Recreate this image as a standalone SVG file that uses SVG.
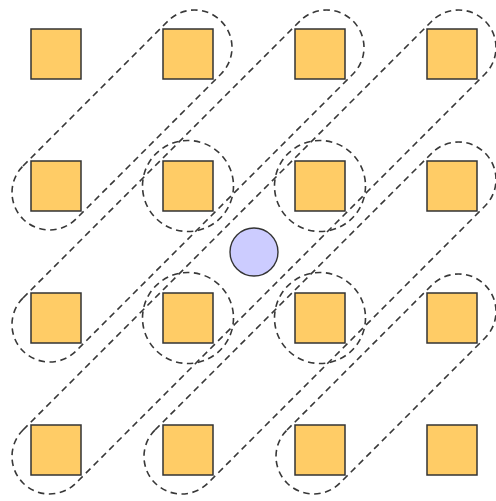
<svg xmlns="http://www.w3.org/2000/svg" width="496" height="501" viewBox="0 0 496 501">
<style>
.grp{fill:none;stroke:#383838;stroke-width:1.6;stroke-dasharray:6.5 4.5}
.sq{fill:#ffcc66;stroke:#333;stroke-width:1.5}
.ctr{fill:#ccccff;stroke:#333;stroke-width:1.4}
</style>
<rect width="496" height="501" fill="#fff"/>
<g id="connectors">
<rect class="grp" x="-140.03" y="-37.5" width="280.06" height="75" rx="37.5" transform="translate(122 120) rotate(-45)"/>
<rect class="grp" x="-233.37" y="-37.5" width="466.74" height="75" rx="37.5" transform="translate(188 186) rotate(-45)"/>
<rect class="grp" x="-326.7" y="-37.5" width="653.4" height="75" rx="37.5" transform="translate(254 252) rotate(-45)"/>
<rect class="grp" x="-233.37" y="-37.5" width="466.74" height="75" rx="37.5" transform="translate(320 318) rotate(-45)"/>
<rect class="grp" x="-140.03" y="-37.5" width="280.06" height="75" rx="37.5" transform="translate(386 384) rotate(-45)"/>
<circle class="grp" cx="188" cy="186" r="45.5"/>
<circle class="grp" cx="320" cy="186" r="45.5"/>
<circle class="grp" cx="188" cy="318" r="45.5"/>
<circle class="grp" cx="320" cy="318" r="45.5"/>
</g>
<g id="n00"><rect class="sq" x="31" y="29" width="50" height="50"/></g>
<g id="n01"><rect class="sq" x="163" y="29" width="50" height="50"/></g>
<g id="n02"><rect class="sq" x="295" y="29" width="50" height="50"/></g>
<g id="n03"><rect class="sq" x="427" y="29" width="50" height="50"/></g>
<g id="n10"><rect class="sq" x="31" y="161" width="50" height="50"/></g>
<g id="n11"><rect class="sq" x="163" y="161" width="50" height="50"/></g>
<g id="n12"><rect class="sq" x="295" y="161" width="50" height="50"/></g>
<g id="n13"><rect class="sq" x="427" y="161" width="50" height="50"/></g>
<g id="n20"><rect class="sq" x="31" y="293" width="50" height="50"/></g>
<g id="n21"><rect class="sq" x="163" y="293" width="50" height="50"/></g>
<g id="n22"><rect class="sq" x="295" y="293" width="50" height="50"/></g>
<g id="n23"><rect class="sq" x="427" y="293" width="50" height="50"/></g>
<g id="n30"><rect class="sq" x="31" y="425" width="50" height="50"/></g>
<g id="n31"><rect class="sq" x="163" y="425" width="50" height="50"/></g>
<g id="n32"><rect class="sq" x="295" y="425" width="50" height="50"/></g>
<g id="n33"><rect class="sq" x="427" y="425" width="50" height="50"/></g>
<g id="center"><circle class="ctr" cx="254" cy="252" r="24"/></g>
</svg>
